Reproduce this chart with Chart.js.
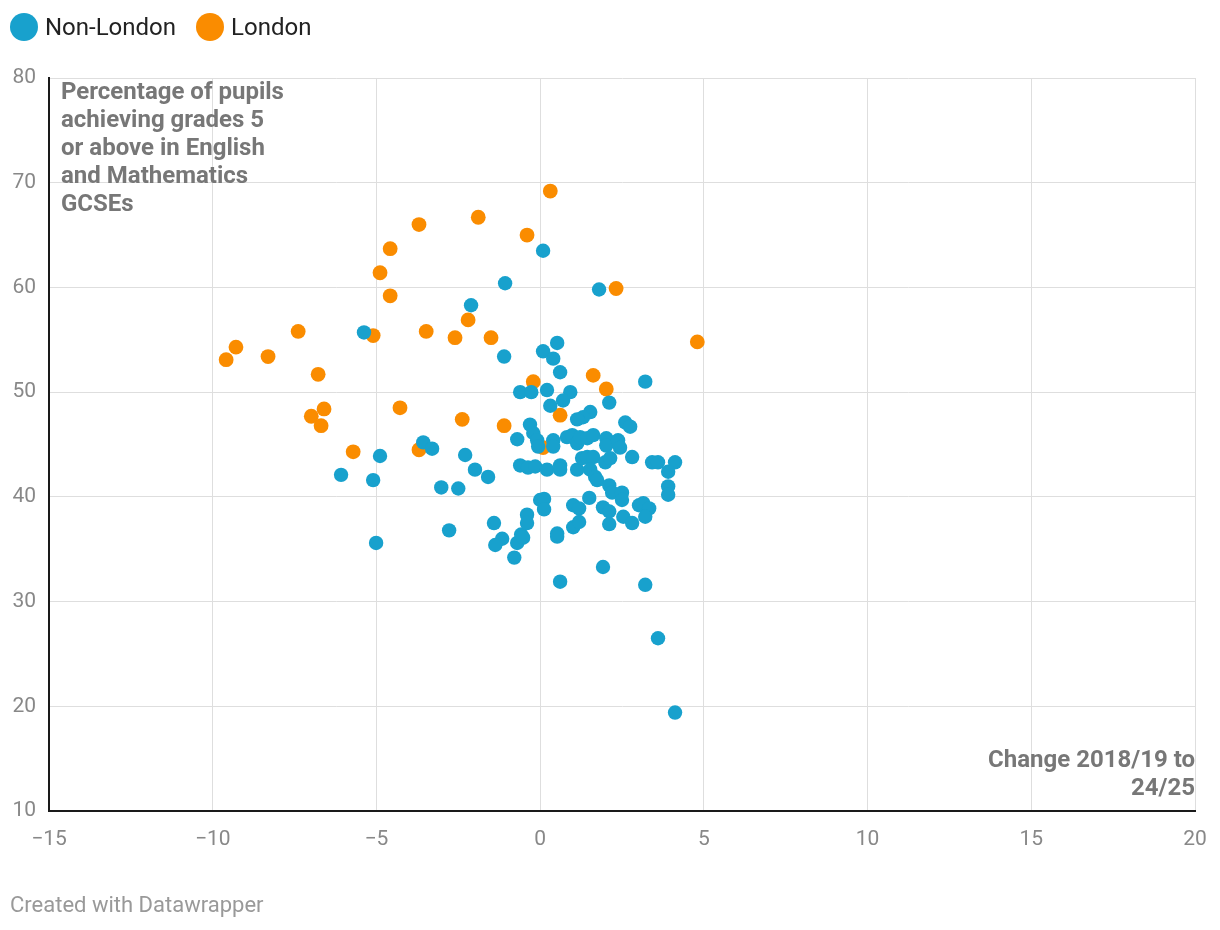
<!DOCTYPE html>
<html><head><meta charset="utf-8">
<script src="https://cdn.jsdelivr.net/npm/chart.js@4.4.1/dist/chart.umd.min.js"></script>
<style>
html,body{margin:0;padding:0;background:#fff;}
#wrap{position:relative;width:1220px;height:930px;font-family:Roboto,sans-serif;overflow:hidden;}
#legend{position:absolute;left:10px;top:12px;display:flex;align-items:center;font-size:24px;color:#222;line-height:30px;z-index:2;}
.item{display:flex;align-items:center;margin-right:20px;}
.dot{width:28px;height:28px;border-radius:50%;margin-right:7px;}
#footer{position:absolute;left:10px;top:891px;font-size:22px;line-height:28px;color:#999;z-index:2;}
canvas{position:absolute;left:0;top:0;}
</style></head>
<body><div id="wrap"><canvas id="c" width="1220" height="930"></canvas><div id="legend"></div><div id="footer">Created with Datawrapper</div></div>
<script>
// ---- DATA ----
const seriesNames = ['Non-London', 'London'];
// [change 2018/19 to 24/25, % achieving grade 5+ in English & Maths]
const nonLondonData = [
[0.09,63.5],[-1.07,60.4],[1.80,59.8],[-2.11,58.3],[-5.38,55.7],[0.52,54.7],[-1.10,53.4],[0.09,53.9],[0.40,53.2],[0.61,51.9],
[3.21,51.0],[-0.61,50.0],[-0.27,50.0],[0.21,50.2],[0.92,50.0],[0.70,49.2],[0.31,48.7],[2.11,49.0],[1.53,48.1],[1.31,47.6],
[1.13,47.4],[2.60,47.1],[2.75,46.7],[-0.31,46.9],[-0.70,45.5],[-0.21,46.1],[-0.09,45.4],[-0.06,44.8],[0.40,45.4],[0.40,44.8],
[0.82,45.7],[0.98,45.9],[1.13,45.1],[1.22,45.7],[1.44,45.6],[1.62,45.9],[2.02,45.6],[2.02,44.9],[2.38,45.4],[2.44,44.7],
[2.81,43.8],[3.42,43.3],[3.60,43.3],[4.12,43.3],[3.91,42.4],[3.91,41.0],[3.91,40.2],[-0.61,43.0],[-0.37,42.8],[-0.15,42.9],
[0.21,42.6],[0.61,43.0],[0.61,42.6],[1.13,42.6],[1.28,43.7],[1.44,43.8],[1.62,43.8],[1.53,42.6],[1.68,41.9],[1.74,41.6],
[1.99,43.3],[2.14,43.7],[2.11,41.1],[2.20,40.4],[2.50,40.4],[2.50,39.7],[-1.59,41.9],[-1.99,42.6],[-2.29,44.0],[-3.57,45.2],
[-3.30,44.6],[-4.89,43.9],[-6.08,42.1],[-5.10,41.6],[-3.02,40.9],[-2.50,40.8],[-5.01,35.6],[-2.78,36.8],[-1.41,37.5],[-1.16,36.0],
[-1.37,35.4],[-0.79,34.2],[-0.70,35.6],[-0.58,36.4],[-0.52,36.1],[-0.40,38.3],[-0.40,37.5],[0.00,39.7],[0.12,39.8],[0.12,38.8],
[0.52,36.5],[0.52,36.2],[0.61,31.9],[1.01,39.2],[1.19,38.9],[1.01,37.1],[1.19,37.6],[1.50,39.9],[1.92,39.0],[2.11,38.6],
[2.11,37.4],[2.54,38.1],[2.81,37.5],[3.02,39.2],[3.15,39.4],[3.33,38.9],[3.21,38.1],[1.92,33.3],[3.21,31.6],[3.60,26.5],[4.12,19.4]
];
const londonData = [
[-9.59,53.1],[-9.29,54.3],[-8.31,53.4],[-7.39,55.8],[-6.78,51.7],[-6.99,47.7],[-6.60,48.4],[-6.69,46.8],[-5.71,44.3],[-4.89,61.4],
[-4.58,63.7],[-4.58,59.2],[-5.10,55.4],[-3.70,66.0],[-3.48,55.8],[-4.28,48.5],[-3.70,44.5],[-1.89,66.7],[-2.20,56.9],[-2.60,55.2],
[-1.50,55.2],[-2.38,47.4],[-1.10,46.8],[-0.40,65.0],[0.31,69.2],[2.32,59.9],[-0.21,51.0],[1.62,51.6],[2.02,50.3],[0.61,47.8],
[4.80,54.8],[0.09,44.7]
];
const xTicks = [-15, -10, -5, 0, 5, 10, 15, 20];
const yTicks = [10, 20, 30, 40, 50, 60, 70, 80];
const yAxisTitle = ['Percentage of pupils', 'achieving grades 5', 'or above in English', 'and Mathematics', 'GCSEs'];
const xAxisTitle = ['Change 2018/19 to', '24/25'];

// ---- STYLE ----
const colors = ['#18a1cd', '#fa8c00'];
const FONT = 'Roboto, sans-serif';

// legend (HTML)
const lg = document.getElementById('legend');
seriesNames.forEach((n, i) => {
  const it = document.createElement('div'); it.className = 'item';
  const d = document.createElement('span'); d.className = 'dot'; d.style.background = colors[i];
  const t = document.createElement('span'); t.textContent = n;
  it.appendChild(d); it.appendChild(t); lg.appendChild(it);
});

const annot = {
  id: 'annot',
  afterDraw(chart) {
    const {ctx, chartArea: a} = chart;
    ctx.save();
    ctx.font = 'bold 24px ' + FONT;
    ctx.fillStyle = '#777';
    ctx.textBaseline = 'middle';
    ctx.textAlign = 'left';
    yAxisTitle.forEach((t, i) => ctx.fillText(t, a.left + 12, a.top + 15 + i * 28));
    ctx.textAlign = 'right';
    xAxisTitle.forEach((t, i) => ctx.fillText(t, a.right, a.bottom - 50 + i * 28));
    ctx.restore();
  }
};

const tickFont = {family: FONT, size: 21};
new Chart(document.getElementById('c'), {
  type: 'scatter',
  data: {
    datasets: [
      {label: seriesNames[0], data: nonLondonData.map(p => ({x: p[0], y: p[1]})), backgroundColor: colors[0], borderWidth: 0, pointRadius: 7.2, pointHoverRadius: 7.2},
      {label: seriesNames[1], data: londonData.map(p => ({x: p[0], y: p[1]})), backgroundColor: colors[1], borderWidth: 0, pointRadius: 7.4, pointHoverRadius: 7.4}
    ]
  },
  options: {
    responsive: false,
    animation: false,
    layout: {padding: {top: 78, left: 0, right: 25, bottom: 69}},
    plugins: {legend: {display: false}, tooltip: {enabled: false}},
    scales: {
      x: {
        type: 'linear', min: -15, max: 20,
        afterBuildTicks: s => { s.ticks = xTicks.map(v => ({value: v})); },
        afterFit: s => { s.height = 50; s.paddingLeft = 0; s.paddingRight = 0; },
        grid: {color: '#dedede', lineWidth: 1, drawTicks: false},
        border: {color: '#1a1a1a', width: 2},
        ticks: {padding: 16, color: '#888', font: tickFont, maxRotation: 0, callback: v => String(v).replace('-', '\u2212')}
      },
      y: {
        type: 'linear', min: 10, max: 80,
        afterBuildTicks: s => { s.ticks = yTicks.map(v => ({value: v})); },
        afterFit: s => { s.width = 49; s.paddingTop = 0; s.paddingBottom = 0; },
        grid: {color: '#dedede', lineWidth: 1, drawTicks: false},
        border: {color: '#1a1a1a', width: 2},
        ticks: {padding: 13, color: '#888', font: tickFont}
      }
    }
  },
  plugins: [annot]
});
</script>
</body></html>
